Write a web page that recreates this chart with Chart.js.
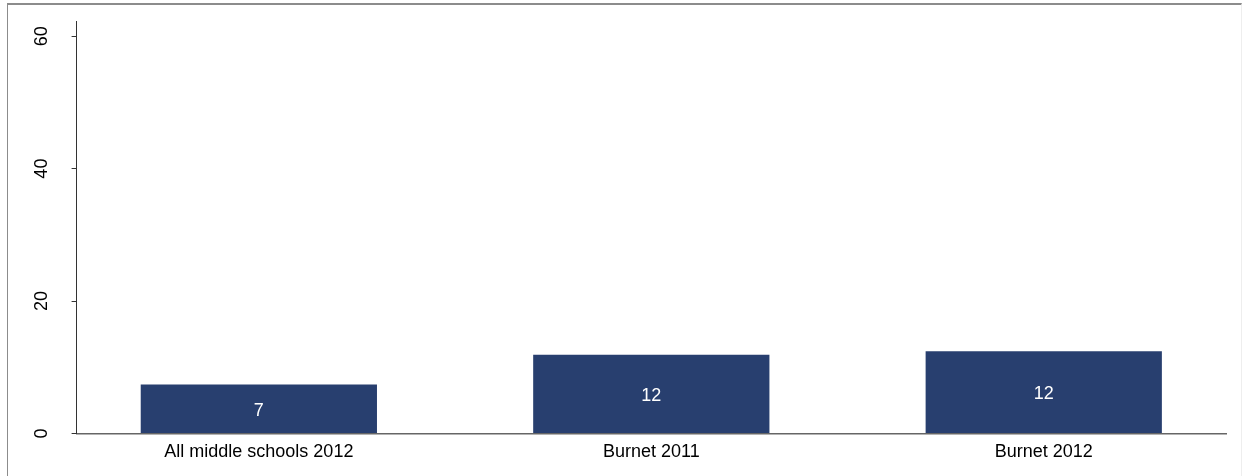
<!DOCTYPE html>
<html>
<head>
<meta charset="utf-8">
<script src="https://cdn.jsdelivr.net/npm/chart.js@4"></script>
<style>
  html, body { margin: 0; padding: 0; background: #fff; overflow: hidden; }
  #wrap { position: relative; width: 1242px; height: 476px; }
  #frame { position: absolute; left: 7px; top: 3px; width: 1233px; height: 480px;
           border-top: 2px solid #8c8c8c; border-left: 1px solid #8c8c8c; border-right: 1px solid #eeeeee; }
  canvas { position: absolute; left: 0; top: 0; }
</style>
</head>
<body>
<div id="wrap">
  <div id="frame"></div>
  <canvas id="c" width="1242" height="476"></canvas>
</div>
<script>
const categories = ["All middle schools 2012", "Burnet 2011", "Burnet 2012"];
const values = [7.4, 11.9, 12.4];
const yTicks = [0, 20, 40, 60];

Chart.defaults.font.family = "'Liberation Sans', Arial, sans-serif";
Chart.defaults.font.size = 18;
Chart.defaults.color = "#000";

const barLabels = {
  id: 'barLabels',
  afterDatasetsDraw(chart) {
    const ctx = chart.ctx;
    const meta = chart.getDatasetMeta(0);
    ctx.save();
    ctx.fillStyle = '#ffffff';
    ctx.font = "18px 'Liberation Sans', Arial, sans-serif";
    ctx.textAlign = 'center';
    ctx.textBaseline = 'middle';
    meta.data.forEach((bar, i) => {
      const midY = (bar.y + bar.base) / 2 + 2;
      ctx.fillText(String(Math.round(values[i])), bar.x, midY);
    });
    ctx.restore();
  }
};

new Chart(document.getElementById('c'), {
  type: 'bar',
  data: {
    datasets: [{
      data: values.map((v, i) => ({ x: i, y: v })),
      backgroundColor: '#283f6f',
      borderWidth: 0,
      categoryPercentage: 0.602,
      barPercentage: 1
    }]
  },
  options: {
    responsive: false,
    animation: false,
    devicePixelRatio: 1,
    layout: { padding: { left: 30, right: 16, top: 21, bottom: 5 } },
    plugins: { legend: { display: false }, tooltip: { enabled: false } },
    scales: {
      x: {
        type: 'linear',
        offset: false,
        min: -0.4644,
        max: 2.4644,
        afterBuildTicks: (scale) => { scale.ticks = categories.map((c, i) => ({ value: i })); },
        ticks: {
          callback: (v) => categories[v] ?? '',
          padding: 8,
          maxRotation: 0,
          autoSkip: false,
          color: '#000'
        },
        grid: { display: true, drawOnChartArea: false, drawTicks: false, tickLength: 0 },
        border: { display: true, color: '#666', width: 1.5 }
      },
      y: {
        min: 0,
        max: 62.3,
        afterBuildTicks: (scale) => { scale.ticks = yTicks.map(v => ({ value: v })); },
        ticks: {
          minRotation: 90,
          maxRotation: 90,
          crossAlign: 'center',
          padding: 0,
          color: '#000'
        },
        grid: {
          display: true, drawOnChartArea: false, drawTicks: true,
          tickLength: 25, tickBorderDash: [0, 20, 5, 100], color: '#333'
        },
        border: { display: true, color: '#333', width: 1 }
      }
    }
  },
  plugins: [barLabels]
});
</script>
</body>
</html>
